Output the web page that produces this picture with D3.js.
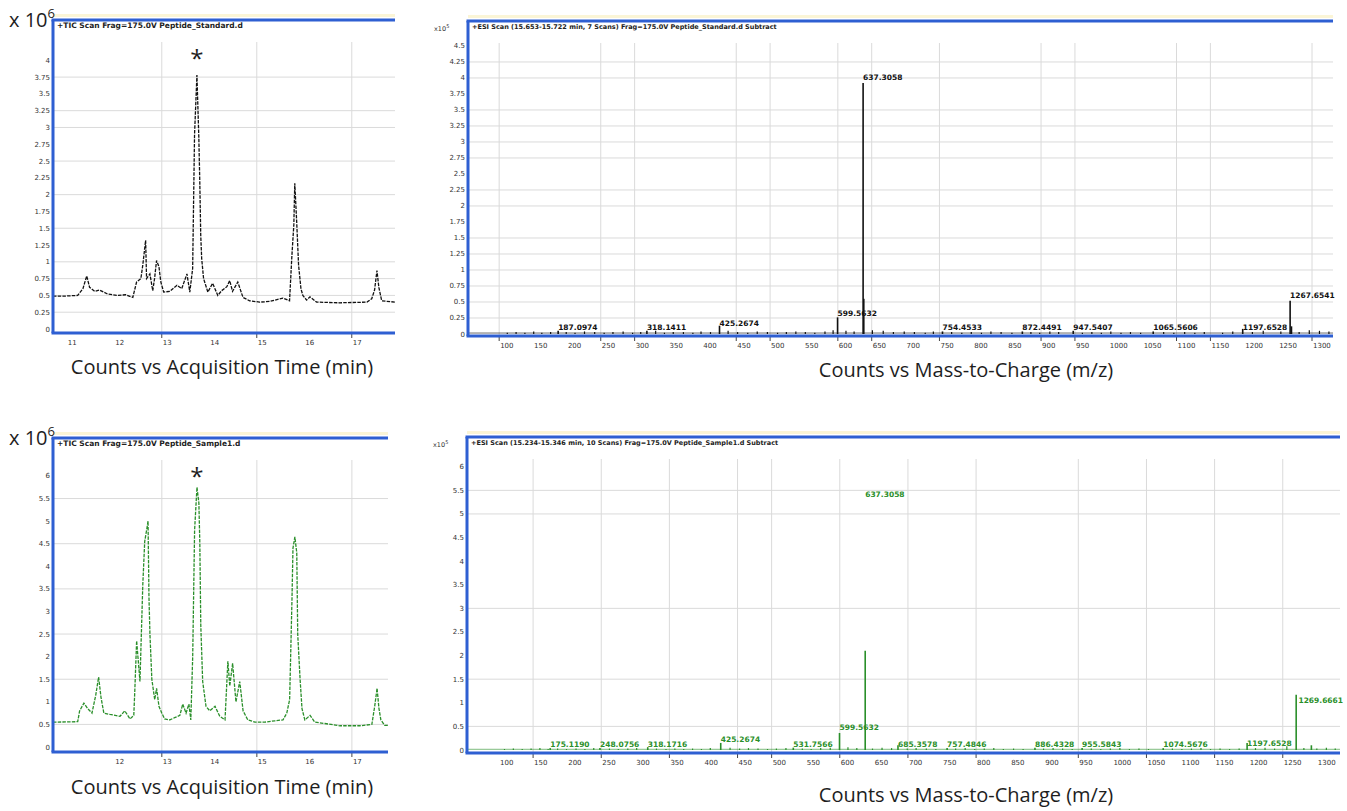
<!DOCTYPE html>
<html>
<head>
<meta charset="utf-8">
<script src="https://cdn.jsdelivr.net/npm/d3@7"></script>
<style>
  body { margin: 0; background: #fff; }
  svg text { font-family: "DejaVu Sans", sans-serif; }
  svg text.big { font-family: "Open Sans", sans-serif; fill: #1e1e1e; }
</style>
</head>
<body>
<svg id="chart" width="1347" height="811"></svg>
<script>
// ---- chromatogram, standard (black), counts x10^6 vs minutes
const timeStd = [10.71,10.96,11.23,11.34,11.42,11.48,11.59,11.69,11.86,12.07,12.24,12.39,12.47,12.56,12.60,12.66,12.68,12.75,12.81,12.85,12.89,12.94,12.98,13.04,13.17,13.32,13.42,13.53,13.59,13.65,13.69,13.74,13.78,13.80,13.82,13.84,13.88,13.97,14.07,14.18,14.26,14.37,14.43,14.49,14.60,14.71,14.85,15.06,15.27,15.55,15.69,15.74,15.78,15.80,15.84,15.88,15.93,15.97,16.05,16.12,16.26,16.75,17.32,17.42,17.48,17.53,17.57,17.63,17.91];
const countsStd = [0.49,0.49,0.50,0.60,0.79,0.62,0.56,0.58,0.52,0.50,0.51,0.47,0.70,0.75,0.95,1.32,0.75,0.82,0.57,0.76,1.02,0.93,0.70,0.55,0.56,0.65,0.60,0.82,0.55,0.90,2.90,3.78,2.85,2.20,1.40,1.05,0.75,0.55,0.68,0.50,0.57,0.63,0.72,0.56,0.70,0.47,0.42,0.40,0.41,0.46,0.42,1.10,1.55,2.17,1.60,0.95,0.60,0.50,0.43,0.48,0.40,0.39,0.40,0.45,0.58,0.87,0.62,0.42,0.40];

// ---- chromatogram, sample (green)
const timeSmp = [10.71,11.23,11.27,11.36,11.44,11.53,11.61,11.67,11.72,11.78,11.91,12.12,12.22,12.33,12.41,12.43,12.47,12.54,12.60,12.64,12.68,12.71,12.73,12.75,12.79,12.85,12.89,12.94,13.00,13.06,13.17,13.27,13.38,13.44,13.51,13.57,13.61,13.65,13.69,13.74,13.78,13.80,13.82,13.86,13.93,14.01,14.12,14.22,14.33,14.39,14.43,14.49,14.56,14.64,14.71,14.81,14.96,15.17,15.38,15.55,15.63,15.69,15.74,15.76,15.80,15.84,15.86,15.91,15.95,16.01,16.12,16.22,16.43,16.75,17.17,17.42,17.48,17.53,17.57,17.61,17.69,17.76];
const countsSmp = [0.55,0.56,0.80,0.97,0.85,0.75,1.15,1.55,1.10,0.75,0.72,0.68,0.80,0.62,0.70,1.20,2.35,1.45,3.60,4.55,4.80,5.00,3.30,2.50,1.50,1.05,1.30,0.90,0.75,0.62,0.60,0.65,0.70,0.95,0.75,0.95,0.60,2.00,4.80,5.75,5.40,4.50,2.70,1.45,0.90,0.80,0.90,0.68,0.60,1.90,1.35,1.85,1.00,1.45,0.80,0.60,0.55,0.55,0.58,0.60,0.75,1.05,3.30,4.40,4.65,4.30,2.50,1.50,0.85,0.60,0.70,0.55,0.52,0.47,0.47,0.50,0.90,1.30,0.85,0.60,0.48,0.48];

const timeLabelsStd = [11, 12, 13, 14, 15, 16, 17];
const timeLabelsSmp = [12, 13, 14, 15, 16, 17];
const timeGrid = [13, 15, 17];
const ticksStd = [0,0.25,0.5,0.75,1,1.25,1.5,1.75,2,2.25,2.5,2.75,3,3.25,3.5,3.75,4];
const gridStd = [0.25,0.5,0.75,1,1.5,2,2.5,3,3.25,3.75];
const ticksSmp = [0,0.5,1,1.5,2,2.5,3,3.5,4,4.5,5,5.5,6];
const gridSmp = [0.5,1.5,2.5,3.5,4.5,5.5];

// ---- mass spectra, counts x10^5 vs m/z
const peakMzStd  = [187.1, 318.1, 425.3, 599.6, 637.3, 638.3, 754.5, 872.4, 947.5, 1065.6, 1197.7, 1267.7, 1269.7];
const peakValStd = [0.05, 0.05, 0.13, 0.26, 3.92, 0.55, 0.04, 0.04, 0.05, 0.04, 0.08, 0.52, 0.12];
const labelMzStd  = [187.1, 318.1, 425.3, 599.6, 637.3, 754.5, 872.4, 947.5, 1065.6, 1197.7, 1267.7];
const labelAtStd  = [0.06, 0.06, 0.12, 0.28, 3.97, 0.06, 0.06, 0.06, 0.06, 0.07, 0.56];
const labelTxtStd = ["187.0974","318.1411","425.2674","599.5632","637.3058","754.4533","872.4491","947.5407","1065.5606","1197.6528","1267.6541"];
const noiseMzStd  = [112,125,138,151,163,176,199,212,226,241,255,268,283,297,309,331,344,357,372,386,398,412,438,452,467,481,496,511,524,538,552,566,581,593,612,624,651,667,682,698,713,729,741,768,783,797,812,826,841,857,885,898,913,926,961,975,989,1003,1018,1032,1047,1081,1096,1112,1127,1141,1168,1183,1212,1228,1254,1281,1296,1311,1325];
const noiseValStd = [0.02,0.03,0.02,0.04,0.02,0.03,0.03,0.02,0.04,0.03,0.02,0.03,0.04,0.02,0.03,0.05,0.02,0.03,0.03,0.02,0.04,0.03,0.05,0.03,0.02,0.04,0.03,0.02,0.03,0.04,0.03,0.02,0.04,0.06,0.05,0.04,0.06,0.05,0.03,0.04,0.03,0.02,0.04,0.03,0.02,0.03,0.02,0.04,0.03,0.02,0.03,0.02,0.04,0.03,0.02,0.03,0.02,0.04,0.02,0.03,0.02,0.03,0.02,0.03,0.02,0.03,0.02,0.04,0.03,0.05,0.04,0.03,0.06,0.05,0.04];

const peakMzSmp  = [175.1, 248.1, 318.2, 425.3, 531.8, 599.6, 637.3, 685.4, 757.5, 886.4, 955.6, 1074.6, 1197.7, 1269.7, 1292.0];
const peakValSmp = [0.04, 0.04, 0.06, 0.15, 0.05, 0.36, 2.10, 0.10, 0.04, 0.05, 0.04, 0.04, 0.15, 1.17, 0.10];
const labelMzSmp  = [175.1, 248.1, 318.2, 425.3, 531.8, 599.6, 637.3, 685.4, 757.5, 886.4, 955.6, 1074.6, 1197.7, 1273.0];
const labelAtSmp  = [0.06, 0.06, 0.06, 0.17, 0.06, 0.42, 5.36, 0.06, 0.06, 0.06, 0.06, 0.06, 0.08, 1.00];
const labelTxtSmp = ["175.1190","248.0756","318.1716","425.2674","531.7566","599.5632","637.3058","685.3578","757.4846","886.4328","955.5843","1074.5676","1197.6528","1269.6661"];
const noiseMzSmp  = [108,121,134,147,160,172,186,199,213,226,239,262,275,289,302,331,345,358,371,384,397,410,439,453,466,480,494,507,521,545,558,572,586,612,625,648,662,676,699,712,727,741,770,784,798,812,826,840,855,869,899,913,927,941,969,983,997,1011,1025,1039,1053,1088,1102,1116,1130,1144,1158,1172,1186,1210,1224,1238,1256,1281,1300,1314,1327];
const noiseValSmp = [0.02,0.03,0.02,0.03,0.04,0.02,0.03,0.02,0.03,0.02,0.04,0.03,0.02,0.03,0.04,0.03,0.02,0.03,0.02,0.03,0.02,0.04,0.05,0.03,0.04,0.03,0.02,0.03,0.04,0.03,0.02,0.04,0.05,0.06,0.04,0.03,0.05,0.04,0.03,0.04,0.03,0.02,0.03,0.04,0.02,0.03,0.04,0.02,0.03,0.02,0.03,0.04,0.03,0.02,0.03,0.02,0.03,0.04,0.02,0.03,0.02,0.03,0.02,0.03,0.04,0.02,0.03,0.02,0.03,0.04,0.05,0.03,0.08,0.04,0.03,0.05,0.03];

const mzLabels = d3.range(100, 1301, 50);
const mzGridStd = [100, 250, 300, 450, 500, 600, 650, 750, 900, 950, 1100, 1150, 1300];
const mzGridSmp = [150, 250, 350, 450, 500, 600, 700, 800, 950, 1050, 1150, 1250];
const ticksMsStd = d3.range(0, 4.51, 0.25);
const gridMsStd = [0.25,0.5,0.75,1,1.25,1.5,2,2.25,2.75,3,3.25,3.5,4,4.25];
const ticksMsSmp = d3.range(0, 6.01, 0.5);
const gridMsSmp = [0.5,1.5,3,5,5.5];

const blue = '#2e5fd2';
const green = '#2a8f2a';
const svg = d3.select('#chart');

function panel(cfg) {
    let g = svg.append('g');
    let x = d3.scaleLinear().domain(cfg.xDomain).range([cfg.left, cfg.right]);
    let y = d3.scaleLinear().domain(cfg.yDomain).range([cfg.zeroY, cfg.top]);

    g.selectAll('.hgrid').data(cfg.hGrid).enter().append('line')
        .attr('x1', cfg.left).attr('x2', cfg.right)
        .attr('y1', d => y(d)).attr('y2', d => y(d))
        .attr('stroke', '#dadada').attr('stroke-width', 1);

    g.selectAll('.vgrid').data(cfg.vGrid).enter().append('line')
        .attr('x1', d => x(d)).attr('x2', d => x(d))
        .attr('y1', cfg.top + 22).attr('y2', cfg.bottom)
        .attr('stroke', '#dadada').attr('stroke-width', 1);

    // tick marks under the axis
    g.selectAll('.tick').data(cfg.vGrid).enter().append('line')
        .attr('x1', d => x(d)).attr('x2', d => x(d))
        .attr('y1', cfg.bottom).attr('y2', cfg.bottom + 5)
        .attr('stroke', '#444').attr('stroke-width', 1);

    g.selectAll('.ylab').data(cfg.yTicks).enter().append('text')
        .attr('x', cfg.left - 3).attr('y', d => y(d) + 2.5)
        .attr('text-anchor', 'end').attr('font-size', 7).attr('fill', '#333')
        .text(d => +d.toFixed(2));

    g.selectAll('.xlab').data(cfg.xTicks).enter().append('text')
        .attr('x', d => x(d) + 1).attr('y', cfg.bottom + 12)
        .attr('font-size', 7).attr('fill', '#333')
        .text(d => d);

    return {g: g, x: x, y: y};
}

function frame(cfg) {
    let g = svg.append('g');
    g.append('rect').attr('x', cfg.left).attr('y', cfg.top - 6)
        .attr('width', cfg.right - cfg.left).attr('height', 3).attr('fill', '#fbf5d6');
    g.append('line').attr('x1', cfg.left - 1.5).attr('x2', cfg.right).attr('y1', cfg.top).attr('y2', cfg.top)
        .attr('stroke', blue).attr('stroke-width', 3);
    g.append('line').attr('x1', cfg.left).attr('x2', cfg.left).attr('y1', cfg.top).attr('y2', cfg.bottom)
        .attr('stroke', blue).attr('stroke-width', 3);
    g.append('line').attr('x1', cfg.left - 1.5).attr('x2', cfg.right).attr('y1', cfg.bottom).attr('y2', cfg.bottom)
        .attr('stroke', blue).attr('stroke-width', 3);
    g.append('text').attr('x', cfg.left + 4).attr('y', cfg.top + 8)
        .attr('font-size', cfg.titleSize).attr('font-weight', 'bold').attr('fill', '#222')
        .text(cfg.title);
}

function chromatogram(cfg, times, counts, color) {
    let p = panel(cfg);
    let pts = times.map((t, i) => [t, counts[i]]);
    p.g.append('path')
        .datum(pts)
        .attr('d', d3.line().x(d => p.x(d[0])).y(d => p.y(d[1])))
        .attr('fill', 'none')
        .attr('stroke', color)
        .attr('stroke-width', 1.3)
        .attr('stroke-dasharray', '3.5,1.2');
    frame(cfg);
    // x 10^6 multiplier
    let m = svg.append('text').attr('class', 'big').attr('x', cfg.left - 44).attr('y', cfg.top + 7).attr('font-size', 20);
    m.append('tspan').text('x 10');
    m.append('tspan').attr('font-size', 13).attr('dy', -9).text('6');
    // asterisk on the marked peak
    svg.append('text').attr('class', 'big')
        .attr('x', p.x(cfg.starAt)).attr('y', p.y(cfg.starY))
        .attr('text-anchor', 'middle').attr('font-size', 24).text('*');
    svg.append('text').attr('class', 'big')
        .attr('x', 222).attr('y', cfg.axisTitleY)
        .attr('text-anchor', 'middle').attr('font-size', 20)
        .text('Counts vs Acquisition Time (min)');
}

function spectrum(cfg, mz, val, noiseMz, noiseVal, labMz, labAt, labTxt, color) {
    let p = panel(cfg);
    p.g.selectAll('.noise').data(noiseMz).enter().append('line')
        .attr('x1', d => p.x(d)).attr('x2', d => p.x(d))
        .attr('y1', p.y(0)).attr('y2', (d, i) => p.y(noiseVal[i]))
        .attr('stroke', color).attr('stroke-width', 1.2);
    p.g.selectAll('.base').data([0]).enter().append('line')
        .attr('x1', cfg.left).attr('x2', cfg.right)
        .attr('y1', p.y(0.015)).attr('y2', p.y(0.015))
        .attr('stroke', color).attr('stroke-width', 1).attr('opacity', 0.6);
    p.g.selectAll('.peak').data(mz).enter().append('line')
        .attr('x1', d => p.x(d)).attr('x2', d => p.x(d))
        .attr('y1', p.y(0)).attr('y2', (d, i) => p.y(val[i]))
        .attr('stroke', color).attr('stroke-width', 1.6);
    p.g.selectAll('.plab').data(labMz).enter().append('text')
        .attr('x', d => p.x(d)).attr('y', (d, i) => p.y(labAt[i]))
        .attr('font-size', 7.5).attr('font-weight', 'bold').attr('fill', color)
        .text((d, i) => labTxt[i]);
    frame(cfg);
    let m = svg.append('text').attr('x', cfg.left - 34).attr('y', cfg.top + 10).attr('font-size', 6.5).attr('fill', '#333');
    m.append('tspan').text('x10');
    m.append('tspan').attr('font-size', 5).attr('dy', -3).text('5');
    svg.append('text').attr('class', 'big')
        .attr('x', 966).attr('y', cfg.axisTitleY)
        .attr('text-anchor', 'middle').attr('font-size', 20)
        .text('Counts vs Mass-to-Charge (m/z)');
}

chromatogram({
    left: 53, right: 395, top: 20, bottom: 333, zeroY: 329,
    xDomain: [10.71, 17.91], yDomain: [0, 4.6],
    hGrid: gridStd, vGrid: timeGrid, yTicks: ticksStd, xTicks: timeLabelsStd,
    title: '+TIC Scan Frag=175.0V Peptide_Standard.d', titleSize: 7.5,
    starAt: 13.74, starY: 3.9, axisTitleY: 374
}, timeStd, countsStd, '#111');

chromatogram({
    left: 53, right: 388, top: 438, bottom: 752, zeroY: 747,
    xDomain: [10.71, 17.76], yDomain: [0, 6.84],
    hGrid: gridSmp, vGrid: timeGrid, yTicks: ticksSmp, xTicks: timeLabelsSmp,
    title: '+TIC Scan Frag=175.0V Peptide_Sample1.d', titleSize: 7.5,
    starAt: 13.74, starY: 5.8, axisTitleY: 794
}, timeSmp, countsSmp, green);

spectrum({
    left: 468, right: 1333, top: 21, bottom: 336, zeroY: 334,
    xDomain: [54, 1331], yDomain: [0, 4.89],
    hGrid: gridMsStd, vGrid: mzGridStd, yTicks: ticksMsStd, xTicks: mzLabels,
    title: '+ESI Scan (15.653-15.722 min, 7 Scans) Frag=175.0V Peptide_Standard.d  Subtract', titleSize: 6.5,
    axisTitleY: 377
}, peakMzStd, peakValStd, noiseMzStd, noiseValStd, labelMzStd, labelAtStd, labelTxtStd, '#111');

spectrum({
    left: 467, right: 1340, top: 437, bottom: 753, zeroY: 750,
    xDomain: [53, 1334], yDomain: [0, 6.63],
    hGrid: gridMsSmp, vGrid: mzGridSmp, yTicks: ticksMsSmp, xTicks: mzLabels,
    title: '+ESI Scan (15.234-15.346 min, 10 Scans) Frag=175.0V Peptide_Sample1.d  Subtract', titleSize: 6.5,
    axisTitleY: 802
}, peakMzSmp, peakValSmp, noiseMzSmp, noiseValSmp, labelMzSmp, labelAtSmp, labelTxtSmp, green);
</script>
</body>
</html>
